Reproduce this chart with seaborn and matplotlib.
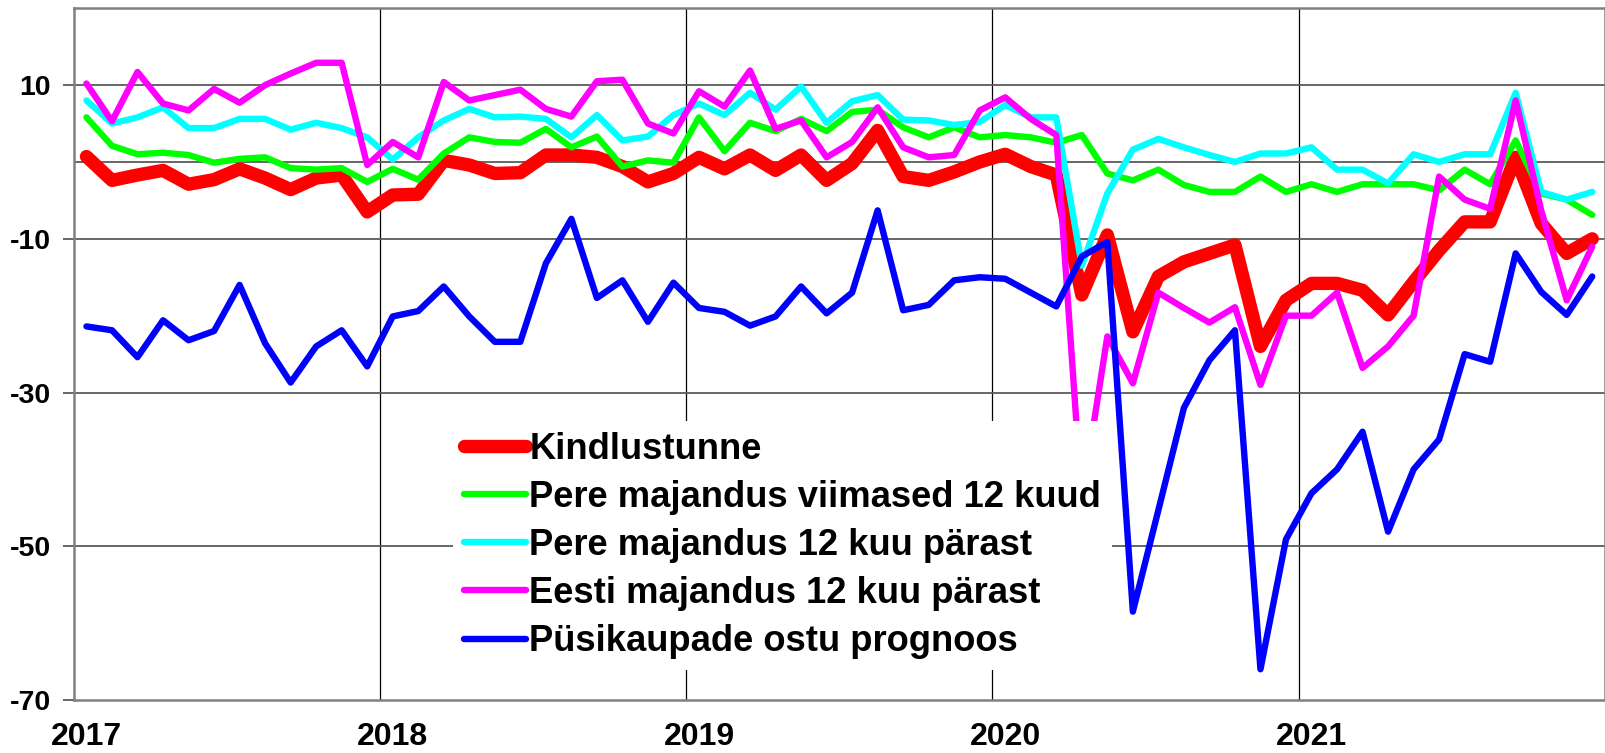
import matplotlib
matplotlib.use("Agg")
import matplotlib.pyplot as plt
import seaborn as sns
import numpy as np
import pandas as pd

# ---------------- data ----------------
years = ["2017", "2018", "2019", "2020", "2021"]
n_months = 60

kindlustunne = [0.7, -2.4, -1.7, -1.1, -2.9, -2.3, -0.9, -2.1, -3.6, -2.1, -1.7, -6.5,
                -4.3, -4.2, 0.2, -0.4, -1.5, -1.4, 0.9, 0.9, 0.6, -0.6, -2.6, -1.5,
                0.6, -0.9, 0.9, -1.1, 0.9, -2.4, -0.2, 4.1, -1.9, -2.4, -1.3, 0.0,
                1.0, -0.6, -1.7, -17.3, -9.5, -22.1, -14.9, -13.0, -11.9, -10.8, -24.0, -18.0,
                -15.8, -15.8, -16.7, -19.9, -15.6, -11.5, -7.8, -7.8, 0.6, -8.0, -11.9, -10.0]

pere_viimased = [5.8, 2.1, 1.0, 1.2, 0.9, -0.1, 0.4, 0.6, -0.8, -1.0, -0.8, -2.6,
                 -0.9, -2.3, 1.1, 3.2, 2.6, 2.5, 4.3, 1.9, 3.3, -0.6, 0.2, -0.1,
                 5.8, 1.4, 5.1, 4.0, 5.6, 4.0, 6.5, 6.8, 4.5, 3.2, 4.5, 3.2,
                 3.5, 3.2, 2.5, 3.5, -1.5, -2.4, -1.0, -3.0, -3.9, -3.9, -1.9, -3.9,
                 -2.9, -3.9, -2.9, -2.9, -2.9, -3.7, -1.0, -2.9, 2.8, -4.1, -4.9, -6.9]

pere_parast = [8.0, 5.0, 5.8, 7.1, 4.4, 4.4, 5.6, 5.6, 4.2, 5.1, 4.4, 3.2,
               0.3, 3.2, 5.4, 6.9, 5.8, 5.9, 5.6, 3.2, 6.1, 2.8, 3.3, 6.1,
               7.6, 6.1, 9.0, 6.8, 9.8, 5.1, 7.9, 8.7, 5.5, 5.4, 4.8, 5.2,
               7.4, 5.8, 5.8, -13.5, -4.1, 1.6, 3.0, 1.9, 0.9, 0.0, 1.1, 1.1,
               1.9, -1.0, -1.0, -2.8, 1.0, 0.0, 1.0, 1.0, 9.0, -3.9, -4.9, -3.9]

eesti_parast = [10.2, 5.3, 11.7, 7.6, 6.7, 9.5, 7.7, 10.0, 11.5, 12.9, 12.9, -0.4,
                2.6, 0.6, 10.4, 8.0, 8.7, 9.4, 6.9, 5.9, 10.5, 10.7, 5.0, 3.7,
                9.2, 7.2, 11.9, 4.3, 5.4, 0.6, 2.6, 7.1, 1.9, 0.6, 0.9, 6.7,
                8.4, 5.6, 3.5, -44.0, -22.7, -28.8, -17.0, -19.0, -20.9, -18.9, -29.0, -20.0,
                -20.0, -17.0, -26.8, -24.0, -20.0, -1.9, -4.9, -6.1, 8.0, -6.3, -18.0, -11.0]

pusikaubad = [-21.4, -21.9, -25.4, -20.6, -23.2, -22.0, -16.0, -23.6, -28.7, -24.0, -21.9, -26.6,
              -20.1, -19.4, -16.2, -20.1, -23.4, -23.4, -13.2, -7.4, -17.7, -15.4, -20.8, -15.7,
              -19.0, -19.5, -21.3, -20.1, -16.2, -19.7, -17.0, -6.3, -19.3, -18.6, -15.4, -15.0,
              -15.2, -17.0, -18.8, -12.3, -10.4, -58.5, -45.3, -32.0, -25.8, -21.9, -66.0, -49.1,
              -43.1, -40.0, -35.1, -48.1, -40.0, -36.1, -25.0, -26.0, -11.9, -16.9, -19.9, -14.9]

labels = ["Kindlustunne",
          "Pere majandus viimased 12 kuud",
          "Pere majandus 12 kuu pärast",
          "Eesti majandus 12 kuu pärast",
          "Püsikaupade ostu prognoos"]
colors = ["#FF0000", "#00FF00", "#00FFFF", "#FF00FF", "#0000FF"]
widths = [9.6, 4.6, 4.6, 4.6, 4.6]

# ---------------- style ----------------
sns.set_theme(style="white")
plt.rcParams["font.family"] = ["Liberation Sans", "DejaVu Sans"]
plt.rcParams["font.weight"] = "bold"
plt.rcParams["text.color"] = "black"
plt.rcParams["xtick.color"] = "black"
plt.rcParams["ytick.color"] = "black"

W, H = 1606, 753
fig = plt.figure(figsize=(W / 100, H / 100), dpi=100)
left, right, top, bottom = 73.7, 1605.0, 8.2, 700.0
ax = fig.add_axes([left / W, 1 - bottom / H, (right - left) / W, (bottom - top) / H])

x = np.arange(n_months)
series = [kindlustunne, pere_viimased, pere_parast, eesti_parast, pusikaubad]
for vals, lab, col, lw in zip(series, labels, colors, widths):
    df = pd.DataFrame({"month": x, "value": vals})
    sns.lineplot(data=df, x="month", y="value", ax=ax, color=col, linewidth=lw,
                 label=lab, solid_capstyle="round", solid_joinstyle="round", zorder=3)

ax.set_xlim(-0.5, n_months - 0.5)
ax.set_ylim(-70, 20)
ax.set_xlabel("")
ax.set_ylabel("")

# grid lines
for k in range(1, 5):
    ax.axvline(-0.5 + 12 * k, color="black", lw=0.9, zorder=1)
for v in [10, 0, -10, -30, -50]:
    ax.axhline(v, color="#5a5a5a", lw=1.3, zorder=1)

ax.set_yticks([-70, -50, -30, -10, 10])
ax.set_yticklabels(["-70", "-50", "-30", "-10", "10"])
ax.set_xticks([0, 12, 24, 36, 48])
ax.set_xticklabels(years)
ax.tick_params(axis="y", direction="out", length=8, width=1.3, color="#5a5a5a",
               pad=8.5, labelsize=20.5, left=True)
ax.tick_params(axis="x", length=0, pad=16, labelsize=23)
for lab in ax.get_xticklabels() + ax.get_yticklabels():
    lab.set_fontweight("bold")

for sp in ax.spines.values():
    sp.set_color("#808080")
    sp.set_linewidth(1.8)
    sp.set_visible(True)

leg = ax.legend(loc="upper left", bbox_to_anchor=(453 / W, 1 - 421 / H),
                bbox_transform=fig.transFigure, frameon=True, fancybox=False,
                facecolor="white", edgecolor="none", framealpha=1,
                borderpad=0.3, borderaxespad=0, handlelength=1.7,
                handletextpad=0.1, labelspacing=0.36,
                prop={"weight": "bold", "size": 26.2})
leg.set_zorder(5)

fig.savefig("out.png", dpi=100)
